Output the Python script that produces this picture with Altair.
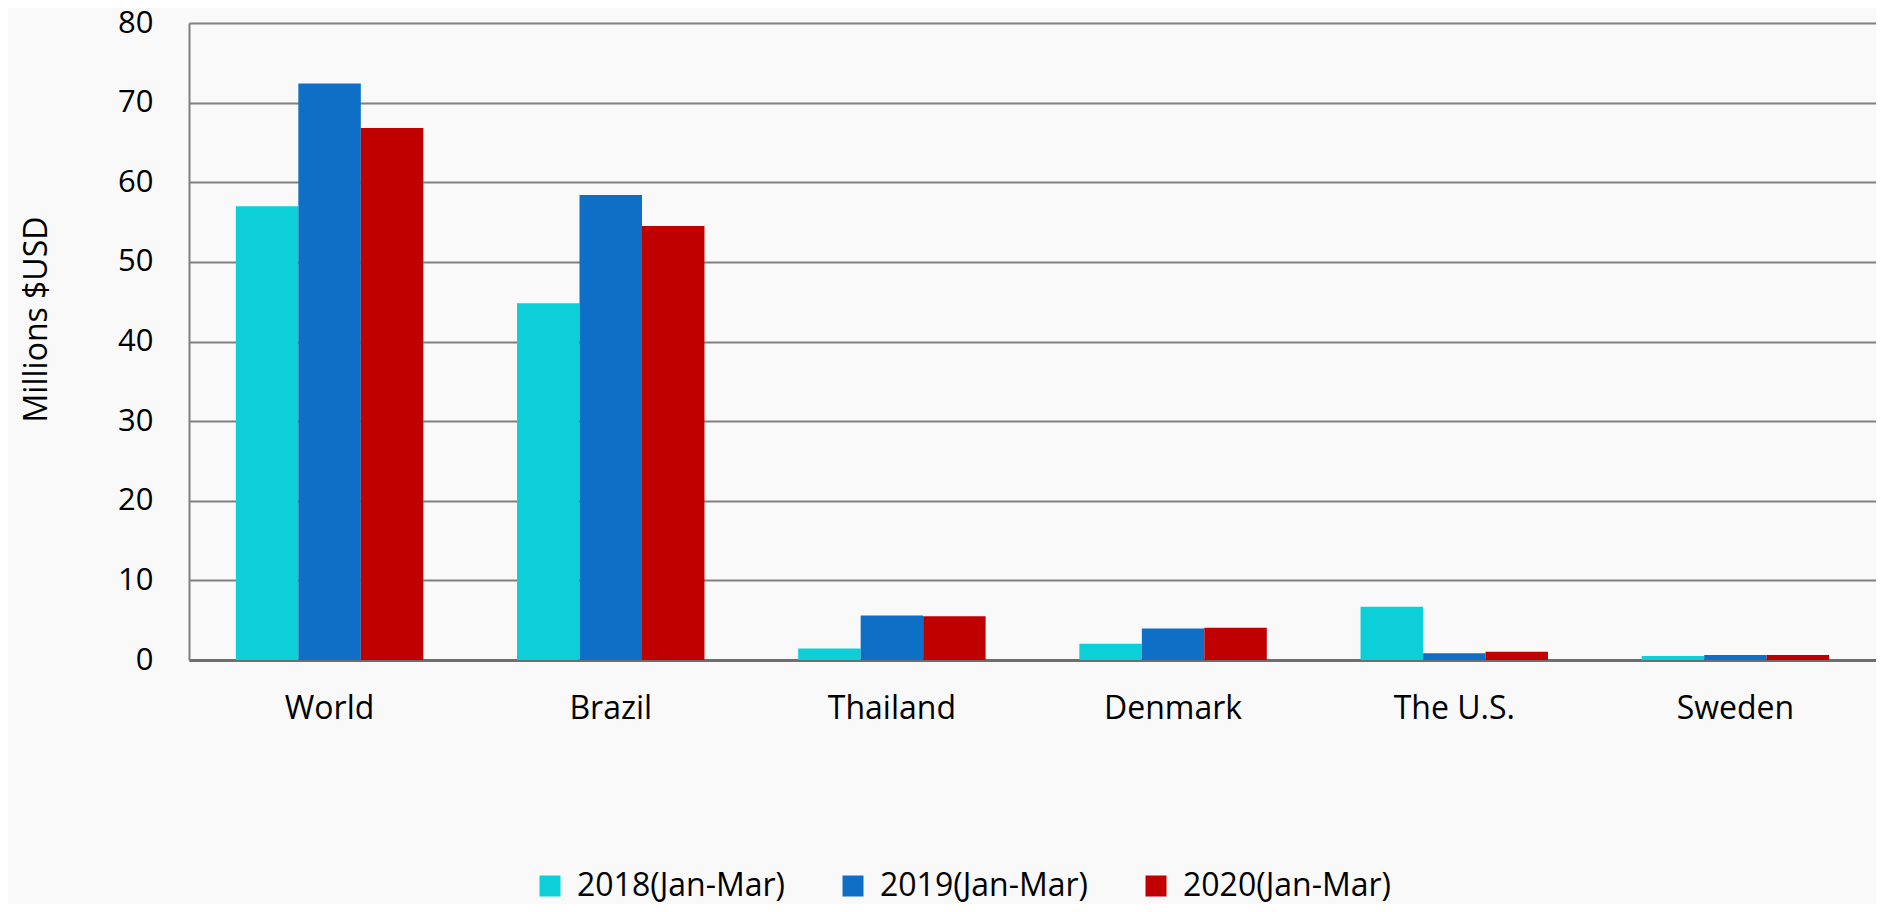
import altair as alt
import pandas as pd

countries = ["World", "Brazil", "Thailand", "Denmark", "The U.S.", "Sweden"]
series = ["2018(Jan-Mar)", "2019(Jan-Mar)", "2020(Jan-Mar)"]
v2018 = [57.0, 44.8, 1.45, 2.05, 6.7, 0.5]
v2019 = [72.4, 58.4, 5.6, 3.95, 0.85, 0.63]
v2020 = [66.8, 54.5, 5.5, 4.05, 1.05, 0.63]
colors = ["#0CCFD8", "#0F6FC6", "#C00000"]
y_ticks = [0, 10, 20, 30, 40, 50, 60, 70, 80]

rows = []
for s, vals in zip(series, [v2018, v2019, v2020]):
    for c, v in zip(countries, vals):
        rows.append({"country": c, "series": s, "value": v})
df = pd.DataFrame(rows)

FONT = "Open Sans"

chart = alt.Chart(df).mark_bar().encode(
    x=alt.X(
        "country:N",
        sort=countries,
        scale=alt.Scale(paddingInner=1 / 3, paddingOuter=1 / 6),
        axis=alt.Axis(
            title=None, labelAngle=0, ticks=False, tickSize=0,
            domain=True, domainColor="#6e6e6e", domainWidth=3,
            labelFont=FONT, labelFontSize=32, labelColor="#000000",
            labelPadding=33, grid=False,
        ),
    ),
    xOffset=alt.XOffset("series:N", sort=series,
                        scale=alt.Scale(paddingInner=0, paddingOuter=0)),
    y=alt.Y(
        "value:Q",
        scale=alt.Scale(domain=[0, 80], nice=False),
        axis=alt.Axis(
            values=y_ticks, title="Millions $USD", ticks=False, tickSize=0,
            domain=True, domainColor="#808080", domainWidth=2,
            grid=True, gridColor="#808080", gridWidth=2,
            labelFont=FONT, labelFontSize=31, labelColor="#000000",
            labelPadding=36,
            titleFont=FONT, titleFontSize=32, titleFontWeight="normal",
            titleColor="#000000", titleAngle=270,
            titleX=-143, titleY=296, titleAlign="center",
            titleBaseline="alphabetic",
        ),
    ),
    color=alt.Color(
        "series:N",
        sort=series,
        scale=alt.Scale(domain=series, range=colors),
        legend=alt.Legend(
            title=None, orient="none", direction="horizontal",
            legendX=345, legendY=847, symbolType="square",
            symbolSize=441, symbolStrokeWidth=0, symbolOpacity=1,
            labelFont=FONT, labelFontSize=32, labelColor="#000000",
            labelOffset=11, labelLimit=400, columnPadding=52, padding=0,
        ),
    ),
).properties(
    width=1687,
    height=637,
    background="#f9f9f9",
    autosize=alt.AutoSizeParams(type="none"),
    padding={"left": 181, "top": 15, "right": 0, "bottom": 244},
).configure_view(stroke=None)

chart.save("out.html", embed_options={"renderer": "svg", "actions": False})
